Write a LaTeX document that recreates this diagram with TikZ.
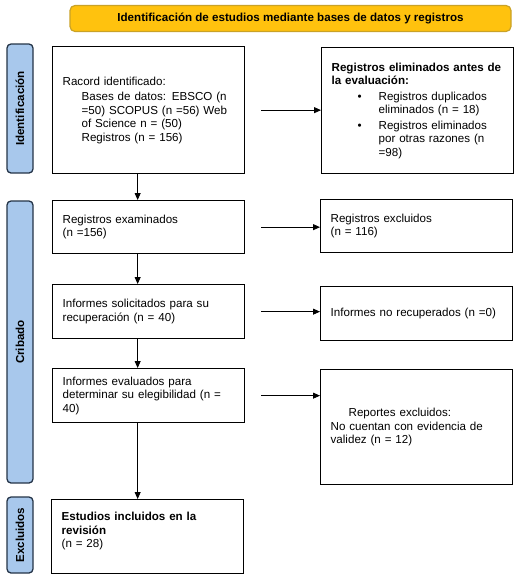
\documentclass[tikz,border=0pt]{standalone}
\usepackage{fontspec}
\setmainfont{Liberation Sans}
\usetikzlibrary{arrows.meta}
\definecolor{bannerfill}{HTML}{FFC20E}
\definecolor{bannerline}{HTML}{C9A227}
\definecolor{stagefill}{HTML}{A8C8EC}
\definecolor{stageline}{HTML}{243447}
\begin{document}
\begin{tikzpicture}[x=1pt,y=-1pt,
    every node/.style={font=\fontsize{11.6}{13.5}\selectfont},
    box/.style={draw,line width=1.3pt,align=left,anchor=north west,
        inner xsep=10pt,inner ysep=2pt,text width=172pt},
    stage/.style={draw=stageline,fill=stagefill,line width=1.3pt,
        rounded corners=4pt,rotate=90,minimum height=26pt,
        font=\fontsize{11.6}{13.5}\selectfont\bfseries},
    flow/.style={-{Triangle[length=7pt,width=6pt]},line width=0.8pt}]
    \useasboundingbox (0,0) rectangle (522,582);
    % banner
    \node[draw=bannerline,fill=bannerfill,line width=1.2pt,rounded corners=5pt,
        minimum width=441pt,minimum height=26pt,
        font=\fontsize{11.6}{13.5}\selectfont\bfseries] (banner) at (290.5,18.5)
        {Identificación de estudios mediante bases de datos y registros};
    % stages
    \node[stage,minimum width=129pt] (sIdent) at (20,108.5) {Identificación};
    \node[stage,minimum width=282pt] (sCrib) at (20,342) {Cribado};
    \node[stage,minimum width=76pt] (sExcl) at (20,535) {Excluidos};
    % left column
    \node[box,minimum height=127pt] (ident) at (52,46)
        {Racord identificado:\\[2pt]
        \hspace*{19pt}Bases de datos: EBSCO (n\\
        \hspace*{19pt}=50) SCOPUS (n =56) Web\\
        \hspace*{19pt}of Science n = (50)\\
        \hspace*{19pt}Registros (n = 156)};
    \node[box,minimum height=53pt] (exam) at (52,200)
        {Registros examinados\\(n =156)};
    \node[box,minimum height=54pt] (solic) at (52,284)
        {Informes solicitados para su\\recuperación (n = 40)};
    \node[box,minimum height=54pt] (evalu) at (52,368)
        {Informes evaluados para\\determinar su elegibilidad (n =\\40)};
    \node[box,minimum height=74pt] (incl) at (51,499)
        {\textbf{Estudios incluidos en la}\\\textbf{revisión}\\(n = 28)\\\mbox{}};
    % right column
    \node[box,minimum height=126pt] (elim) at (321,47)
        {\textbf{Registros eliminados antes de}\\\textbf{la evaluación:}\\[2pt]
        \hspace*{26pt}\makebox[21pt][l]{\textbullet}Registros duplicados\\
        \hspace*{47pt}eliminados (n = 18)\\[2pt]
        \hspace*{26pt}\makebox[21pt][l]{\textbullet}Registros eliminados\\
        \hspace*{47pt}por otras razones (n\\
        \hspace*{47pt}=98)};
    \node[box,minimum height=53pt] (excl) at (320,199)
        {Registros excluidos\\(n = 116)};
    \node[box,minimum height=54pt] (norec) at (320,286)
        {Informes no recuperados (n =0)};
    \node[box,minimum height=115pt] (report) at (320,369)
        {\hspace*{18pt}Reportes excluidos:\\No cuentan con evidencia de\\validez (n = 12)\\[4pt]};
    % arrows
    \draw[flow] ([xshift=-11pt]ident.south) -- ([xshift=-11pt]ident.south |- exam.north);
    \draw[flow] ([xshift=-11pt]exam.south) -- ([xshift=-11pt]exam.south |- solic.north);
    \draw[flow] ([xshift=-11pt]solic.south) -- ([xshift=-11pt]solic.south |- evalu.north);
    \draw[flow] ([xshift=-11pt]evalu.south) -- ([xshift=-11pt]evalu.south |- incl.north);
    \draw[flow] ([xshift=16pt]ident.east) -- (elim.west |- ident.east);
    \draw[flow] ([xshift=16pt]exam.east) -- (excl.west |- exam.east);
    \draw[flow] ([xshift=16pt]solic.east) -- (norec.west |- solic.east);
    \draw[flow] ([xshift=16pt]evalu.east) -- (report.west |- evalu.east);
\end{tikzpicture}
\end{document}
